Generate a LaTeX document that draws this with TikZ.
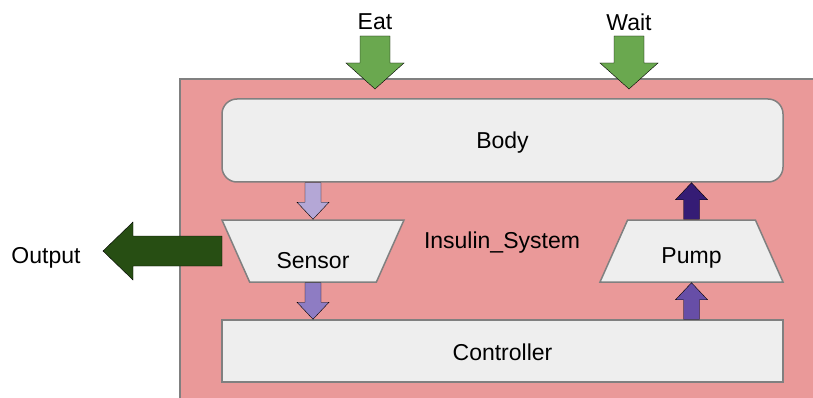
\documentclass[tikz,border=0pt]{standalone}
\usepackage{fontspec}
\setmainfont{Liberation Sans}
\usepackage{xcolor}
\usepackage{tikz}
\usetikzlibrary{calc, shapes.geometric}
\definecolor{systempink}{HTML}{EA9999}
\definecolor{boxgray}{HTML}{EEEEEE}
\definecolor{edgegray}{HTML}{808080}
\definecolor{inputgreen}{HTML}{6AA84F}
\definecolor{outputgreen}{HTML}{274E13}
\definecolor{purplelight}{HTML}{B4A7D6}
\definecolor{purplemid}{HTML}{8E7CC3}
\definecolor{purplemain}{HTML}{674EA7}
\definecolor{purpledark}{HTML}{351C75}
\tikzset{every node/.append style={font=\fontsize{23}{28}\selectfont}}
\tikzset{
    blockbox/.style={draw=edgegray, line width=1.5pt, fill=boxgray, inner sep=0pt},
    trapbox/.style={blockbox, trapezium, trapezium angle=66,
        trapezium stretches body=true},
    blockarrow/.style n args={3}{draw=black!45, line width=0.8pt, to path={
        ($(\tikztostart)!#1!90:(\tikztotarget)$)
        -- ($(\tikztotarget)!#3!(\tikztostart)!#1!90:(\tikztotarget)$)
        -- ($(\tikztotarget)!#3!(\tikztostart)!#2!90:(\tikztotarget)$)
        -- (\tikztotarget)
        -- ($(\tikztotarget)!#3!(\tikztostart)!#2!-90:(\tikztotarget)$)
        -- ($(\tikztotarget)!#3!(\tikztostart)!#1!-90:(\tikztotarget)$)
        -- ($(\tikztostart)!#1!-90:(\tikztotarget)$) -- cycle}}
}

\begin{document}
\begin{tikzpicture}[x=1pt, y=-1pt]
    \useasboundingbox (0,0) rectangle (813,398);

    % System frame
    \draw[draw=edgegray, line width=1.5pt, fill=systempink] (180,79) rectangle (840,430);
    \node (systemlabel) at (502,243) {Insulin\_System};

    % Blocks
    \node[blockbox, rounded corners=15pt, minimum width=561pt, minimum height=83pt,
        text height=16.5pt, text depth=1pt] (body) at (502.5,140.5) {Body};
    \node[blockbox, minimum width=561pt, minimum height=62pt,
        text height=18.4pt, text depth=0pt] (controller) at (502.5,351) {Controller};
    \node[trapbox, shape border rotate=180, minimum width=182pt,
        text height=34.6pt, text depth=0pt, inner ysep=13.7pt] (sensor) at (313,251) {Sensor};
    \node[trapbox, minimum width=183pt,
        text height=24.4pt, text depth=0pt, inner ysep=18.8pt] (pump) at (691.5,251) {Pump};

    % Inputs
    \node (eatlabel) at (375,22) {Eat};
    \node (waitlabel) at (629,22) {Wait};
    \coordinate (eattop) at (375,36);
    \coordinate (eattip) at (375,89);
    \coordinate (waittop) at (629,36);
    \coordinate (waittip) at (629,89);
    \draw[fill=inputgreen] (eattop) to[blockarrow={15pt}{29pt}{26pt}] (eattip);
    \draw[fill=inputgreen] (waittop) to[blockarrow={15pt}{29pt}{26pt}] (waittip);

    % Output
    \node (outputlabel) at (46,258) {Output};
    \coordinate (outstart) at (222,251);
    \coordinate (outtip) at (103,251);
    \draw[fill=outputgreen] (outstart) to[blockarrow={15pt}{29pt}{30pt}] (outtip);

    % Signal flow
    \draw[fill=purplelight] (sensor.north |- body.south) to[blockarrow={8pt}{16pt}{17pt}] (sensor.north);
    \draw[fill=purplemid] (sensor.south) to[blockarrow={8pt}{16pt}{17pt}] (sensor.south |- controller.north);
    \draw[fill=purplemain] (pump.south |- controller.north) to[blockarrow={8pt}{16pt}{17pt}] (pump.south);
    \draw[fill=purpledark] (pump.north) to[blockarrow={8pt}{16pt}{17pt}] (pump.north |- body.south);
\end{tikzpicture}
\end{document}
